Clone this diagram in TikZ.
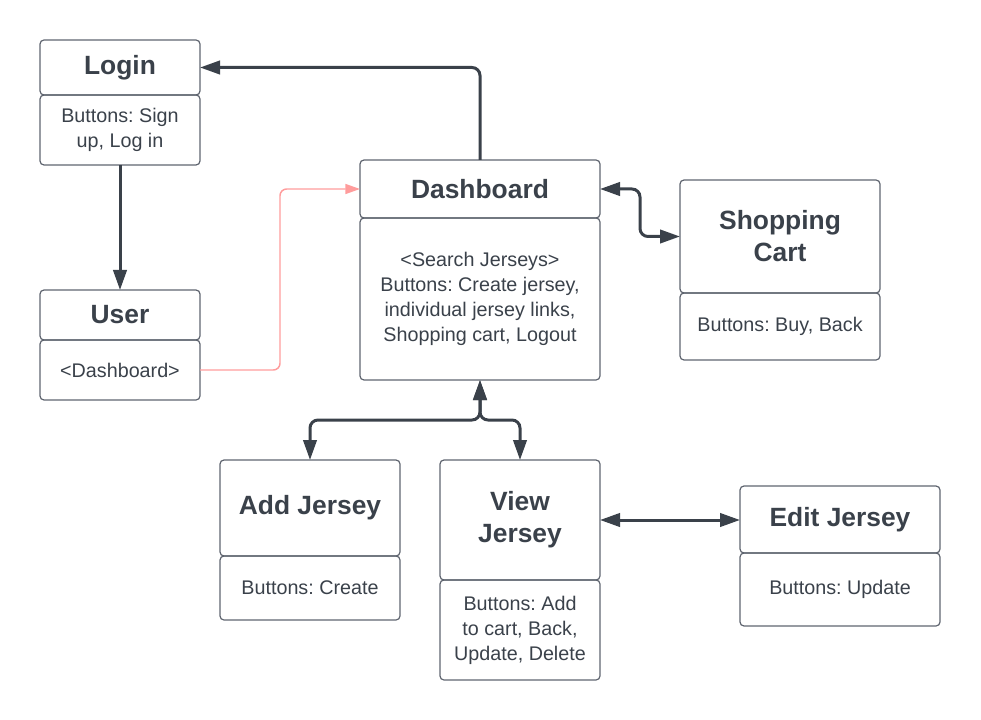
\documentclass[tikz,border=0pt]{standalone}
\usepackage{fontspec}
\setmainfont{Liberation Sans}
\usetikzlibrary{arrows.meta}
\definecolor{ink}{HTML}{3A414A}
\definecolor{edge}{HTML}{5F6570}
\definecolor{salmon}{HTML}{FF9C9C}
\frenchspacing

\begin{document}
\begin{tikzpicture}[x=0.75pt,y=-0.75pt,
    head/.style={draw=edge,line width=0.9pt,rounded corners=3pt,outer sep=0pt,
      align=center,text=ink,font=\fontsize{19.8}{24}\selectfont\bfseries},
    body/.style={draw=edge,line width=0.9pt,rounded corners=3pt,outer sep=0pt,
      align=center,text=ink,font=\fontsize{14.8}{18.75}\selectfont},
    link/.style={draw=ink,line width=2.25pt,rounded corners=6pt,
      -{Triangle[length=15pt,width=10pt]}},
    twoway/.style={link,{Triangle[length=15pt,width=10pt]}-{Triangle[length=15pt,width=10pt]}}]
  \useasboundingbox (0,0) rectangle (981,720);

  % boxes
  \node[head,minimum width=120pt,minimum height=41.25pt] (login) at (120,67.5) {Login};
  \node[body,minimum width=120pt,minimum height=52.5pt] (loginbody) at (120,130) {Buttons: Sign\\up, Log in};

  \node[head,minimum width=120pt,minimum height=37.5pt] (user) at (120,315) {User};
  \node[body,minimum width=120pt,minimum height=45pt] (userbody) at (120,370) {<Dashboard>};

  \node[head,minimum width=180pt,minimum height=43.5pt] (dash) at (480,189) {Dashboard};
  \node[body,minimum width=180pt,minimum height=121.5pt] (dashbody) at (480,299)
    {<Search Jerseys>\\Buttons: Create jersey,\\individual jersey links,\\Shopping cart, Logout};

  \node[head,minimum width=150pt,minimum height=84.75pt] (cart) at (780,236.5) {Shopping\\Cart};
  \node[body,minimum width=150pt,minimum height=50.25pt] (cartbody) at (780,326.5) {Buttons: Buy, Back};

  \node[head,minimum width=135pt,minimum height=72pt] (add) at (310,508) {Add Jersey};
  \node[body,minimum width=135pt,minimum height=48pt] (addbody) at (310,588) {Buttons: Create};

  \node[head,minimum width=120pt,minimum height=90pt] (view) at (520,520) {View\\Jersey};
  \node[body,minimum width=120pt,minimum height=75pt] (viewbody) at (520,630)
    {Buttons: Add\\to cart, Back,\\Update, Delete};

  \node[head,minimum width=150pt,minimum height=50.25pt] (edit) at (840,519.5) {Edit Jersey};
  \node[body,minimum width=150pt,minimum height=54.75pt] (editbody) at (840,589.5) {Buttons: Update};

  % connectors
  \draw[link] (dash.north) |- (login.east);
  \draw[link,rounded corners=0pt] (loginbody.south) -- (user.north);
  \draw[draw=salmon,line width=1.1pt,rounded corners=5pt,-{Triangle[length=11pt,width=7.5pt]}]
    (userbody.east) -- ++(80,0) |- (dash.west);
  \draw[twoway] (dash.east) -- ++(40,0) |- (cart.west);
  \draw[twoway] (dashbody.south) -- ++(0,40) -| (add.north);
  \draw[twoway] (dashbody.south) -- ++(0,40) -| (view.north);
  \draw[twoway,rounded corners=0pt] (view.east) -- (view.east -| edit.west);
\end{tikzpicture}
\end{document}
